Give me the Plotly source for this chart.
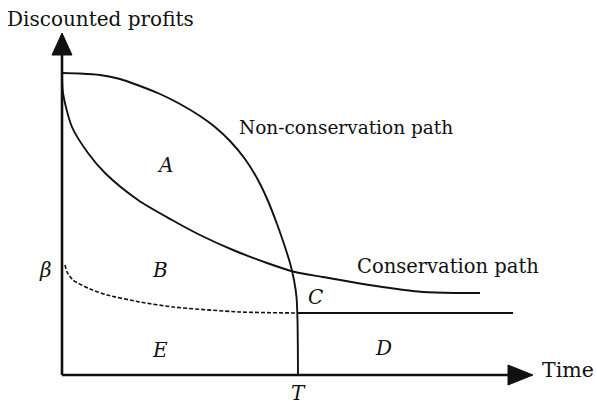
import plotly.graph_objects as go

# Profit paths over time (horizontal: time, vertical: discounted profits)
noncons_t = [0, 18, 38, 58, 78, 98, 118, 138, 153, 168, 183, 196, 206, 215, 222, 228, 232, 234.5, 235.5, 236]
noncons_p = [302, 301.5, 300, 296, 289, 281, 271, 259, 248, 234, 216, 195, 174, 151, 131, 112, 95, 78, 55, 0]

cons_t = [0, 1, 10, 26, 43, 76, 110, 138, 171, 205, 233, 261, 295, 328, 361, 395, 418]
cons_p = [302, 282, 248, 222, 202, 175, 155, 140, 125, 112, 103, 98, 92, 87, 83, 82, 82]

beta_t = [3, 5, 11, 28, 45, 78, 111, 178, 236]
beta_p = [110, 103, 95, 86, 80, 73, 68, 63, 62]

floor_t = [236, 451]
floor_p = [62, 62]

T_mark = 236
x_tip, y_tip = 471, 342

line_col = "#111111"
font_family = "DejaVu Serif"

fig = go.Figure()

fig.add_trace(go.Scatter(x=noncons_t, y=noncons_p, mode="lines",
                         line=dict(color=line_col, width=1.9, shape="spline", smoothing=0.8)))
fig.add_trace(go.Scatter(x=cons_t, y=cons_p, mode="lines",
                         line=dict(color=line_col, width=1.9, shape="spline", smoothing=0.8)))
fig.add_trace(go.Scatter(x=beta_t, y=beta_p, mode="lines",
                         line=dict(color=line_col, width=1.6, dash="4px,2px",
                                   shape="spline", smoothing=0.6)))
fig.add_trace(go.Scatter(x=floor_t, y=floor_p, mode="lines",
                         line=dict(color=line_col, width=1.9)))

# Axes with arrowheads
shapes = [
    dict(type="line", x0=0, y0=0, x1=0, y1=y_tip - 20, line=dict(color=line_col, width=2.6)),
    dict(type="line", x0=0, y0=0, x1=x_tip - 22, y1=0, line=dict(color=line_col, width=2.6)),
    dict(type="path", path=f"M -10,{y_tip - 22} L 10,{y_tip - 22} L 0,{y_tip} Z",
         fillcolor=line_col, line=dict(color=line_col, width=1)),
    dict(type="path", path=f"M {x_tip - 25},10 L {x_tip - 25},-10 L {x_tip},0 Z",
         fillcolor=line_col, line=dict(color=line_col, width=1)),
]

def label(x, y, text, size=20, xanchor="center"):
    return dict(x=x, y=y, xref="x", yref="y", text=text, showarrow=False,
                xanchor=xanchor, yanchor="middle",
                font=dict(family=font_family, size=size, color=line_col))

annotations = [
    label(38, 356, "Discounted profits", size=20),
    label(478, 5, "Time", size=20.5, xanchor="left"),
    label(175, 248, "Non-conservation path", size=18.5, xanchor="left"),
    label(293, 109, "Conservation path", size=19.5, xanchor="left"),
    label(103, 210, "<i>A</i>"),
    label(98, 105, "<i>B</i>"),
    label(253, 78, "<i>C</i>"),
    label(321, 27, "<i>D</i>"),
    label(98, 25, "<i>E</i>"),
    label(-17, 105, "<i>β</i>"),
    label(T_mark, -18, "<i>T</i>"),
]

fig.update_layout(
    width=597, height=405,
    margin=dict(l=0, r=0, t=0, b=0),
    paper_bgcolor="white", plot_bgcolor="white",
    showlegend=False,
    shapes=shapes,
    annotations=annotations,
    xaxis=dict(range=[-62, 535], visible=False, fixedrange=True),
    yaxis=dict(range=[-30, 375], visible=False, fixedrange=True),
)

fig.write_html("out.html")
